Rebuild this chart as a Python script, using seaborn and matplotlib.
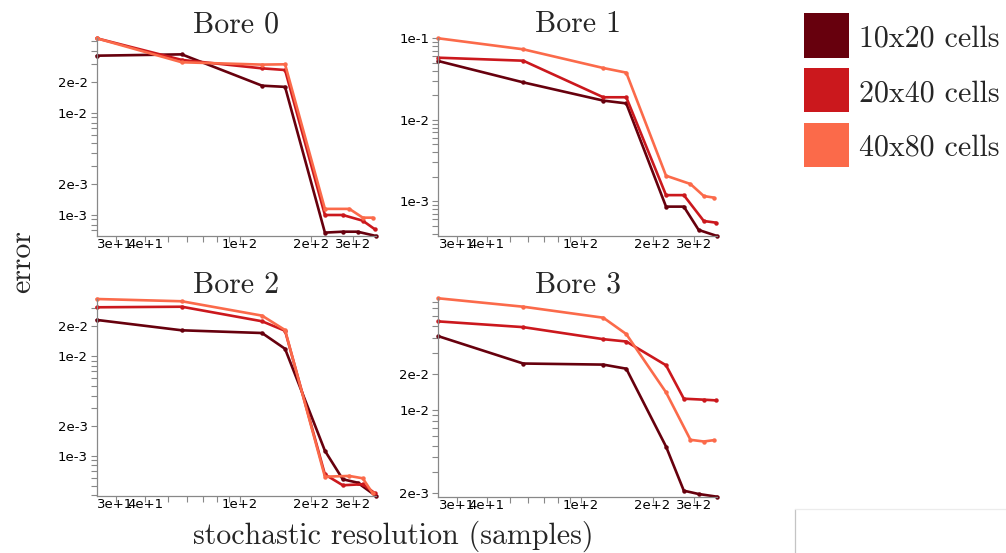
import matplotlib
matplotlib.use("Agg")
import numpy as np
import pandas as pd
import matplotlib.pyplot as plt
import seaborn as sns
from matplotlib.patches import Rectangle
from matplotlib.lines import Line2D
from matplotlib.ticker import FixedLocator, FixedFormatter, NullFormatter

# ---- data -------------------------------------------------------------
resolutions = ["10x20 cells", "20x40 cells", "40x80 cells"]
colors = ["#67000d", "#cb181d", "#fb6a4a"]
bores = ["Bore 0", "Bore 1", "Bore 2", "Bore 3"]

samples_10x20 = [25, 57, 124, 155, 228, 271, 313, 374]
samples_20x40 = [25, 57, 124, 155, 228, 271, 329, 370]
samples_40x80 = [25, 57, 124, 155, 228, 289, 329, 362]

bore0_10x20 = [0.0362, 0.0373, 0.0184, 0.0179, 6.67e-4, 6.81e-4, 6.81e-4, 6.18e-4]
bore0_20x40 = [0.0536, 0.0329, 0.0272, 0.0262, 9.93e-4, 9.93e-4, 8.73e-4, 7.19e-4]
bore0_40x80 = [0.0536, 0.0312, 0.0296, 0.0298, 1.14e-3, 1.14e-3, 9.35e-4, 9.35e-4]

bore1_10x20 = [0.0526, 0.0288, 0.0172, 0.0159, 8.6e-4, 8.6e-4, 4.45e-4, 3.75e-4]
bore1_20x40 = [0.0578, 0.0531, 0.0189, 0.0189, 1.19e-3, 1.19e-3, 5.73e-4, 5.47e-4]
bore1_40x80 = [0.1000, 0.0733, 0.0432, 0.0379, 2.06e-3, 1.63e-3, 1.16e-3, 1.11e-3]

bore2_10x20 = [0.0230, 0.0181, 0.0170, 0.0118, 1.12e-3, 5.80e-4, 5.36e-4, 3.94e-4]
bore2_20x40 = [0.0308, 0.0312, 0.0223, 0.0179, 6.48e-4, 5.05e-4, 5.17e-4, 4.20e-4]
bore2_40x80 = [0.0373, 0.0354, 0.0254, 0.0182, 6.16e-4, 6.26e-4, 5.93e-4, 4.20e-4]

bore3_10x20 = [0.0411, 0.0243, 0.0238, 0.0220, 4.93e-3, 2.11e-3, 1.98e-3, 1.88e-3]
bore3_20x40 = [0.0546, 0.0489, 0.0388, 0.0371, 0.0235, 0.01236, 0.01213, 0.01197]
bore3_40x80 = [0.0851, 0.0724, 0.0586, 0.0428, 0.01397, 5.61e-3, 5.43e-3, 5.57e-3]

x_tick_values = [30, 40, 100, 200, 300]
x_tick_labels = ["3e+1", "4e+1", "1e+2", "2e+2", "3e+2"]
y_tick_values = {
    "Bore 0": [2e-2, 1e-2, 2e-3, 1e-3],
    "Bore 1": [1e-1, 1e-2, 1e-3],
    "Bore 2": [2e-2, 1e-2, 2e-3, 1e-3],
    "Bore 3": [2e-2, 1e-2, 2e-3],
}
y_tick_labels = {
    "Bore 0": ["2e-2", "1e-2", "2e-3", "1e-3"],
    "Bore 1": ["1e-1", "1e-2", "1e-3"],
    "Bore 2": ["2e-2", "1e-2", "2e-3", "1e-3"],
    "Bore 3": ["2e-2", "1e-2", "2e-3"],
}

samples = [samples_10x20, samples_20x40, samples_40x80]
errors = {
    "Bore 0": [bore0_10x20, bore0_20x40, bore0_40x80],
    "Bore 1": [bore1_10x20, bore1_20x40, bore1_40x80],
    "Bore 2": [bore2_10x20, bore2_20x40, bore2_40x80],
    "Bore 3": [bore3_10x20, bore3_20x40, bore3_40x80],
}

rows = []
for bore in bores:
    for res, xs, ys in zip(resolutions, samples, errors[bore]):
        for x, y in zip(xs, ys):
            rows.append({"bore": bore, "resolution": res, "samples": x, "error": y})
df = pd.DataFrame(rows)

# ---- style ------------------------------------------------------------
sns.set_style("white")
plt.rcParams["font.family"] = ["DejaVu Sans"]
SERIF = "cmr10"
AXIS_GREY = "#888888"

W, H = 1006, 553
fig = plt.figure(figsize=(W / 100, H / 100), dpi=100)


def box(left, top, right, bottom):
    return [left / W, 1 - bottom / H, (right - left) / W, (bottom - top) / H]


panel_boxes = {
    "Bore 0": box(96.7, 38.3, 376.0, 236.0),
    "Bore 1": box(438.3, 38.3, 717.0, 236.0),
    "Bore 2": box(96.7, 299.0, 376.0, 496.0),
    "Bore 3": box(438.3, 298.3, 717.0, 496.7),
}

palette = dict(zip(resolutions, colors))


def minor_ticks(lo, hi, majors):
    out = []
    for e in range(int(np.floor(np.log10(lo))) - 1, int(np.ceil(np.log10(hi))) + 1):
        for k in range(1, 10):
            v = k * 10.0 ** e
            if lo <= v <= hi and not any(np.isclose(v, m) for m in majors):
                out.append(v)
    return out


for bore in bores:
    ax = fig.add_axes(panel_boxes[bore])
    sub = df[df["bore"] == bore]
    sns.lineplot(
        data=sub, x="samples", y="error", hue="resolution", hue_order=resolutions,
        palette=palette, estimator=None, sort=False, legend=False, ax=ax,
        linewidth=1.9, marker="o", markersize=3.2, markeredgewidth=0,
    )
    for line in ax.lines:
        line.set_clip_on(False)
    ax.set_xscale("log")
    ax.set_yscale("log")
    ax.set_xlim(sub["samples"].min(), sub["samples"].max())
    ax.set_ylim(sub["error"].min(), sub["error"].max())

    ax.xaxis.set_major_locator(FixedLocator(x_tick_values))
    ax.xaxis.set_major_formatter(FixedFormatter(x_tick_labels))
    ax.xaxis.set_minor_locator(FixedLocator(minor_ticks(*ax.get_xlim(), x_tick_values)))
    ax.xaxis.set_minor_formatter(NullFormatter())

    ax.yaxis.set_major_locator(FixedLocator(y_tick_values[bore]))
    ax.yaxis.set_major_formatter(FixedFormatter(y_tick_labels[bore]))
    ax.yaxis.set_minor_locator(FixedLocator(minor_ticks(*ax.get_ylim(), y_tick_values[bore])))
    ax.yaxis.set_minor_formatter(NullFormatter())

    ax.tick_params(axis="both", which="both", direction="out", length=4.6, width=0.8,
                   color=AXIS_GREY, labelsize=9.5, labelcolor="black",
                   bottom=True, left=True, top=False, right=False)
    ax.tick_params(axis="x", which="both", pad=-3.3)
    ax.tick_params(axis="y", which="both", pad=2.0)

    for side in ("top", "right"):
        ax.spines[side].set_visible(False)
    for side in ("left", "bottom"):
        ax.spines[side].set_color(AXIS_GREY)
        ax.spines[side].set_linewidth(0.9)

    ax.set_xlabel("")
    ax.set_ylabel("")
    ax.set_title(bore, fontfamily=SERIF, fontsize=21.5, pad=3.6)

# shared axis labels
fig.text(393 / W, 1 - 543.5 / H, "stochastic resolution (samples)", fontfamily=SERIF,
         fontsize=21.5, ha="center", va="baseline")
fig.text(30 / W, 1 - 262 / H, "error", fontfamily=SERIF, fontsize=21.5,
         rotation=90, rotation_mode="anchor", ha="center", va="baseline")

# legend: colour swatches with labels
for i, (res, col) in enumerate(zip(resolutions, colors)):
    top = 13.3 + 54.6 * i
    fig.add_artist(Rectangle((804 / W, 1 - (top + 44.5) / H), 45 / W, 44.5 / H,
                             transform=fig.transFigure, facecolor=col,
                             edgecolor="none"))
    fig.text(859 / W, 1 - (top + 33.4) / H, res, fontfamily=SERIF, fontsize=21.5,
             ha="left", va="baseline")

# empty frame in the lower right corner
fig.add_artist(Line2D([794.5 / W, 794.5 / W], [1 - 509 / H, 0], transform=fig.transFigure,
                      color="#c4c4c4", linewidth=0.9))
fig.add_artist(Line2D([794.5 / W, 1], [1 - 509.3 / H, 1 - 509.3 / H],
                      transform=fig.transFigure, color="#ececec", linewidth=0.9))

fig.savefig("out.png", dpi=100, facecolor="white")
